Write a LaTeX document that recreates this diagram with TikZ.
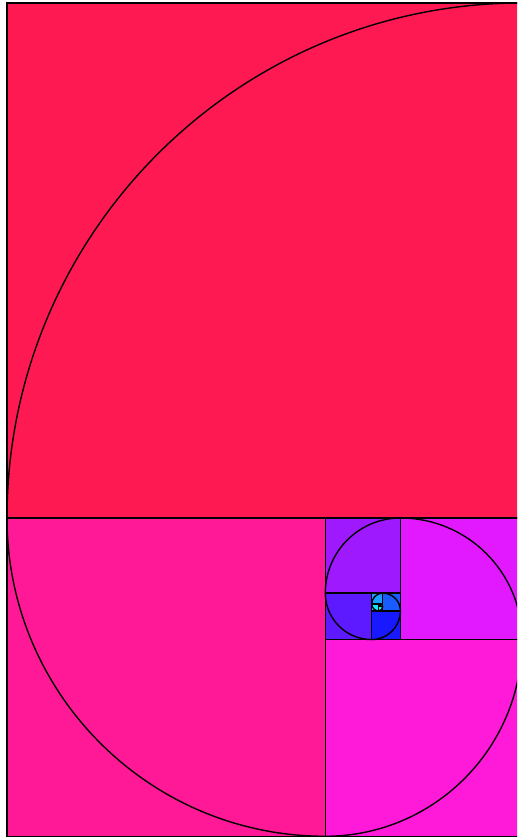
\documentclass[tikz,border=0pt]{standalone}
\begin{document}
\begin{tikzpicture}[x=1pt,y=1pt,
  sqbox/.style={draw=black,line width=1.4pt,line join=miter},
  spiralarc/.style={draw=black,line width=1.4pt}]
\useasboundingbox (0,0) rectangle (517,837);
\clip (0,0) rectangle (517,837);
\fill[white] (0,0) rectangle (517,837);
\def\squares{7/319/515/345/522/319/90,
  7/0.7126/318.2874/327.5/325.2874/319/180,
  325.2874/0.7126/196.7126/310/325.2874/197.4252/270,
  400.4252/197.4252/121.5748/292.5/400.4252/197.4252/0,
  325.2874/243.8622/75.1378/275/400.4252/243.8622/90,
  325.2874/197.4252/46.4370/257.5/371.7244/243.8622/180,
  371.7244/197.4252/28.7008/240/371.7244/226.1260/270,
  382.6890/226.1260/17.7362/222.5/382.6890/226.1260/0,
  371.7244/232.8976/10.9646/205/382.6890/232.8976/90,
  371.7244/226.1260/6.7716/187.5/378.4960/232.8976/180,
  378.4960/226.1260/4.1930/170/378.4960/230.3190/270,
  380.1104/230.3190/2.5786/152.5/380.1104/230.3190/0,
  378.4960/231.2832/1.6144/135/380.1104/231.2832/90,
  378.4960/230.3190/0.9642/117.5/379.4602/231.2832/180}
\foreach \x/\y/\s/\h/\cx/\cy/\a in \squares {
  \definecolor{sqhsb}{Hsb}{\h,0.9,1}
  \colorlet{sqfill}[rgb]{sqhsb}
  \fill[sqfill] (\x,\y) rectangle ++(\s,\s);
}
\foreach \x/\y/\s/\h/\cx/\cy/\a in \squares {
  \draw[sqbox] (\x,\y) rectangle ++(\s,\s);
  \draw[spiralarc] (\cx,\cy) ++(\a:\s) arc[start angle=\a, delta angle=90, radius=\s];
}
\end{tikzpicture}
\end{document}
